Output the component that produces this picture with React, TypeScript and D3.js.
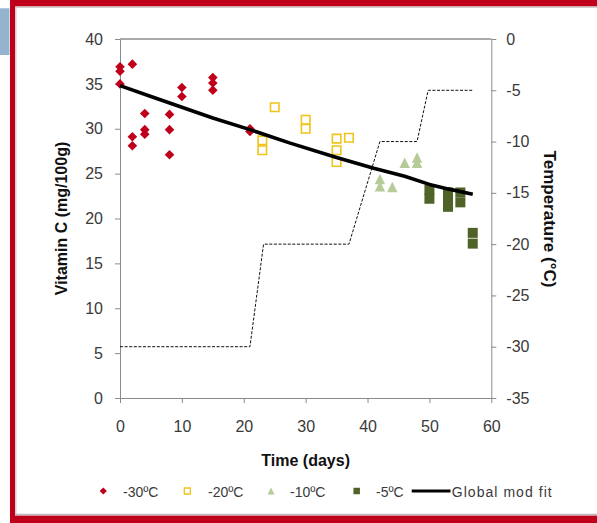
import React, { useEffect, useRef } from "react";
import * as d3 from "d3";

// ---- tick labels ----
const timeTicks = [0, 10, 20, 30, 40, 50, 60];
const vitaminTicks = [0, 5, 10, 15, 20, 25, 30, 35, 40];
const tempTicks = [-35, -30, -25, -20, -15, -10, -5, 0];

// ---- series: [time (days), vitamin C (mg/100g)] ----
const seriesM30: [number, number][] = [
  [0, 36.9], [0, 36.4], [0, 35.0],
  [2, 37.2], [2, 29.1], [2, 28.1],
  [4, 31.7], [4, 29.9], [4, 29.4],
  [8, 31.6], [8, 29.9], [8, 27.1],
  [10, 34.6], [10, 33.6],
  [15, 35.7], [15, 35.1], [15, 34.3],
  [21, 30.0], [21, 29.7],
];
const seriesM20: [number, number][] = [
  [23, 28.7], [23, 27.6],
  [25, 32.4],
  [30, 31.0], [30, 30.0],
  [35, 28.9], [35, 27.6], [35, 26.3],
  [37, 29.0],
];
const seriesM10: [number, number][] = [
  [42, 24.4], [42, 23.6],
  [44, 23.5],
  [46, 26.2],
  [48, 26.8], [48, 26.2],
];
const seriesM5: [number, number][] = [
  [50, 23.2], [50, 22.2],
  [53, 22.9], [53, 22.1], [53, 21.3],
  [55, 22.9], [55, 21.8],
  [57, 18.4], [57, 17.2],
];
// global model fit [time, vitamin C]
const globalFit: [number, number][] = [
  [0, 34.8], [5, 33.6], [10, 32.4], [15, 31.2], [21, 29.9], [27.5, 28.4],
  [35, 26.8], [41, 25.6], [46, 24.7], [50, 23.8], [53, 23.3], [57, 22.7],
];
// storage temperature profile [time, °C]
const tempProfile: [number, number][] = [
  [0, -30], [21, -30], [23.2, -20], [37, -20], [42, -10], [48, -10], [49.8, -5], [57, -5],
];

const legendLabels = ["-30ºC", "-20ºC", "-10ºC", "-5ºC", "Global mod fit"];

const FONT = "'Liberation Sans', Arial, Helvetica, sans-serif";
const AXIS_COLOR = "#8a8a8a";
const LABEL_COLOR = "#3a3a3a";
const RED = "#c0001a";
const YELLOW = "#f0c419";
const LIGHT_GREEN = "#b7cb99";
const DARK_GREEN = "#4f6228";

const diamondType = {
  draw(ctx: any, size: number) {
    const r = Math.sqrt(size / 2);
    ctx.moveTo(0, -r);
    ctx.lineTo(r, 0);
    ctx.lineTo(0, r);
    ctx.lineTo(-r, 0);
    ctx.closePath();
  },
};
const squareType = {
  draw(ctx: any, size: number) {
    const h = Math.sqrt(size) / 2;
    ctx.rect(-h, -h, 2 * h, 2 * h);
  },
};
const triangleType = {
  draw(ctx: any, size: number) {
    const h = Math.sqrt(size) / 2;
    ctx.moveTo(0, -h);
    ctx.lineTo(h, h);
    ctx.lineTo(-h, h);
    ctx.closePath();
  },
};

export default function App() {
  const W = 597, H = 523;
  const left = 120, right = 491.3, top = 39, bottom = 398;
  const x = d3.scaleLinear().domain([0, 60]).range([left, right]);
  const yL = d3.scaleLinear().domain([0, 40]).range([bottom, top]);
  const yR = d3.scaleLinear().domain([-35, 0]).range([bottom, top]);

  const gx = useRef<SVGGElement>(null);
  const gyl = useRef<SVGGElement>(null);
  const gyr = useRef<SVGGElement>(null);

  useEffect(() => {
    const style = (g: any) => {
      g.select(".domain").attr("stroke", AXIS_COLOR).attr("stroke-width", 1);
      g.selectAll(".tick line").attr("stroke", AXIS_COLOR);
      g.selectAll(".tick text")
        .attr("fill", LABEL_COLOR)
        .style("font-family", FONT)
        .style("font-size", "16px");
    };
    const ax = d3.select(gx.current!);
    ax.call(d3.axisBottom(x).tickValues(timeTicks).tickSize(5).tickSizeOuter(0).tickPadding(18) as any);
    style(ax);
    const al = d3.select(gyl.current!);
    al.call(d3.axisLeft(yL).tickValues(vitaminTicks).tickSize(5).tickSizeOuter(0).tickPadding(12) as any);
    style(al);
    const ar = d3.select(gyr.current!);
    ar.call(d3.axisRight(yR).tickValues(tempTicks).tickSize(5).tickSizeOuter(0).tickPadding(10).tickFormat((d: any) => (d < 0 ? "-" + Math.abs(d) : String(d))) as any);
    style(ar);
  }, []);

  const sym = (type: any, size: number) => d3.symbol().type(type).size(size)() as string;
  const diamond = sym(diamondType, 46);
  const hollowSq = sym(squareType, 72);
  const tri = sym(triangleType, 110);
  const darkSq = sym(squareType, 100);

  const fitLine = d3.line<[number, number]>().x(d => x(d[0])).y(d => yL(d[1]))(globalFit) as string;
  const tempLine = d3.line<[number, number]>().x(d => x(d[0])).y(d => yR(d[1]))(tempProfile) as string;

  const legendY = 491;
  const legendMarkX = [103.3, 187.3, 271, 356.7];
  const legendTextX = [123, 208, 290, 376, 451.7];

  return (
    <svg width={W} height={H} style={{ position: "absolute", left: 0, top: 0, background: "#fff" }} fontFamily={FONT}>
      <rect x={0} y={0} width={W} height={H} fill="#fff" />
      {/* frame */}
      <rect x={0} y={8.3} width={9.5} height={46.7} fill="#94b3cf" />
      <rect x={10} y={0} width={W - 10} height={6.5} fill={RED} />
      <rect x={10} y={0} width={5} height={H} fill={RED} />
      <rect x={10} y={515.5} width={W - 10} height={7.5} fill={RED} />
      <line x1={15.5} x2={W} y1={7.3} y2={7.3} stroke="#cfcfcf" strokeWidth={1.5} />
      <line x1={15.8} x2={15.8} y1={7} y2={515} stroke="#cfcfcf" strokeWidth={1.5} />
      <line x1={15.5} x2={W} y1={514.5} y2={514.5} stroke="#bdbdbd" strokeWidth={1.5} />

      {/* top border of plot */}
      <line x1={left} x2={right} y1={top} y2={top} stroke="#555" strokeWidth={1} />

      <g ref={gx} transform={`translate(0,${bottom})`} />
      <g ref={gyl} transform={`translate(${left},0)`} />
      <g ref={gyr} transform={`translate(${right},0)`} />

      {/* temperature profile */}
      <path d={tempLine} fill="none" stroke="#111" strokeWidth={1} strokeDasharray="3,1.6" />

      {/* markers */}
      {seriesM30.map((d, i) => (
        <path key={"a" + i} d={diamond} transform={`translate(${x(d[0])},${yL(d[1])})`} fill={RED} />
      ))}
      {seriesM20.map((d, i) => (
        <path key={"b" + i} d={hollowSq} transform={`translate(${x(d[0])},${yL(d[1])})`} fill="none" stroke={YELLOW} strokeWidth={1.6} />
      ))}
      {seriesM10.map((d, i) => (
        <path key={"c" + i} d={tri} transform={`translate(${x(d[0])},${yL(d[1])})`} fill={LIGHT_GREEN} />
      ))}
      {seriesM5.map((d, i) => (
        <path key={"d" + i} d={darkSq} transform={`translate(${x(d[0])},${yL(d[1])})`} fill={DARK_GREEN} />
      ))}

      {/* global fit */}
      <path d={fitLine} fill="none" stroke="#000" strokeWidth={3.6} strokeLinejoin="round" />

      {/* axis titles */}
      <text transform="translate(61.7,218.5) rotate(-90)" textAnchor="middle" dy="0.35em" fontWeight="bold" fontSize={16} fill="#111">
        Vitamin C (mg/100g)
      </text>
      <text transform="translate(550,219) rotate(90)" textAnchor="middle" dy="0.35em" fontWeight="bold" fontSize={17} fill="#111">
        Temperature (°C)
      </text>
      <text x={(left + right) / 2} y={466} textAnchor="middle" fontWeight="bold" fontSize={16} fill="#111">
        Time (days)
      </text>

      {/* legend */}
      <path d={sym(diamondType, 26)} transform={`translate(${legendMarkX[0]},${legendY})`} fill={RED} />
      <path d={sym(squareType, 36)} transform={`translate(${legendMarkX[1]},${legendY})`} fill="none" stroke={YELLOW} strokeWidth={1.3} />
      <path d={sym(triangleType, 49)} transform={`translate(${legendMarkX[2]},${legendY})`} fill={LIGHT_GREEN} />
      <path d={sym(squareType, 42)} transform={`translate(${legendMarkX[3]},${legendY})`} fill={DARK_GREEN} />
      <line x1={411.7} x2={450.5} y1={legendY} y2={legendY} stroke="#000" strokeWidth={3} />
      {legendLabels.map((t, i) => (
        <text key={t} x={legendTextX[i]} y={legendY + 6} fontSize={14} fill={LABEL_COLOR}
          {...(i === 4 ? { textLength: 100, lengthAdjust: "spacing" } : {})}>
          {t}
        </text>
      ))}
    </svg>
  );
}
